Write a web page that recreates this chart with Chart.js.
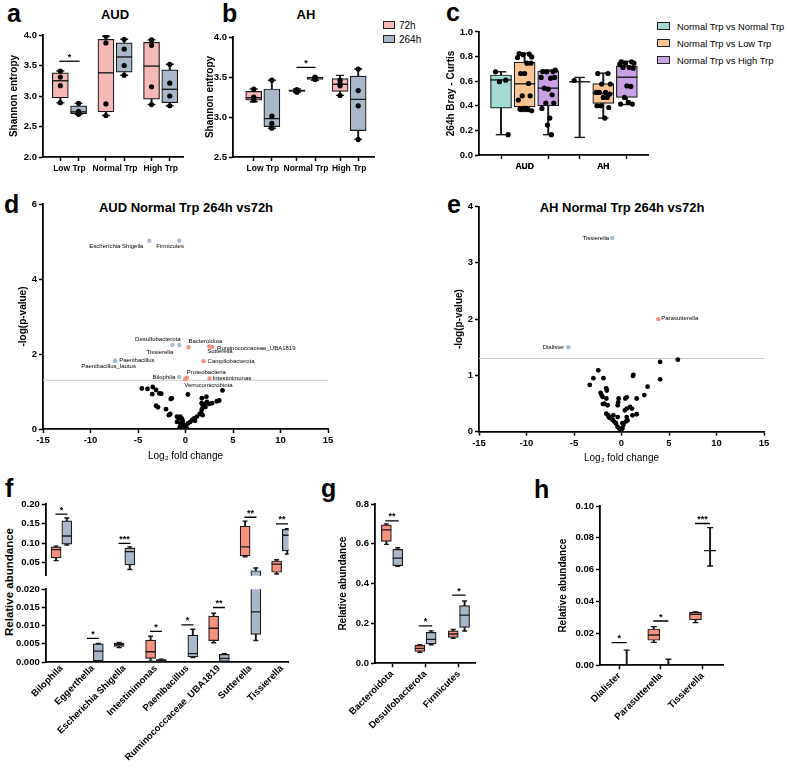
<!DOCTYPE html>
<html>
<head>
<meta charset="utf-8">
<script src="https://cdn.jsdelivr.net/npm/chart.js@4.4.1/dist/chart.umd.min.js"></script>
<style>
  body { margin: 0; background: #fff; width: 789px; height: 769px; position: relative; overflow: hidden;
         font-family: "Liberation Sans", Arial, sans-serif; color: #000; }
  canvas { position: absolute; }
  .letter { position: absolute; font-weight: bold; font-size: 25px; line-height: 1; }
  .ptitle { position: absolute; font-weight: bold; font-size: 13px; white-space: nowrap; transform: translate(-50%, -50%); }
  .sw { position: absolute; border: 1px solid #222; box-sizing: border-box; }
  .lt { position: absolute; font-size: 9.4px; white-space: nowrap; transform: translateY(-50%); }
  .ytitle { position: absolute; font-weight: bold; font-size: 11.5px; white-space: nowrap; transform: translate(-50%, -50%) rotate(-90deg); }
</style>
</head>
<body>
<div class="letter" style="left:7px;top:1px">a</div>
<div class="letter" style="left:222px;top:1px">b</div>
<div class="letter" style="left:446px;top:0px">c</div>
<div class="letter" style="left:4px;top:192px">d</div>
<div class="letter" style="left:447px;top:192px">e</div>
<div class="letter" style="left:5px;top:476px">f</div>
<div class="letter" style="left:321px;top:476px">g</div>
<div class="letter" style="left:534px;top:477px">h</div>

<div class="ptitle" style="left:115px;top:14px">AUD</div>
<div class="ptitle" style="left:306px;top:14px">AH</div>
<div class="ptitle" style="left:186px;top:207px">AUD Normal Trp 264h vs72h</div>
<div class="ptitle" style="left:622px;top:207px">AH Normal Trp 264h vs72h</div>

<div class="sw" style="left:383px;top:21px;width:12px;height:8px;background:#f7b8b8"></div>
<div class="lt" style="left:399px;top:25px;font-size:10px">72h</div>
<div class="sw" style="left:383px;top:35px;width:12px;height:8px;background:#a8b8c9"></div>
<div class="lt" style="left:399px;top:39px;font-size:10px">264h</div>

<div class="sw" style="left:657px;top:22px;width:13px;height:8px;background:#a3dbd5"></div>
<div class="lt" style="left:677px;top:26px">Normal Trp vs Normal Trp</div>
<div class="sw" style="left:657px;top:39px;width:13px;height:8px;background:#fbc593"></div>
<div class="lt" style="left:677px;top:43px">Normal Trp vs Low Trp</div>
<div class="sw" style="left:657px;top:56px;width:13px;height:8px;background:#c9a2e6"></div>
<div class="lt" style="left:677px;top:60px">Normal Trp vs High Trp</div>

<div class="ytitle" style="left:9px;top:582px">Relative abundance</div>

<script>
const FONT = '"Liberation Sans", Arial, sans-serif';
Chart.defaults.font.family = FONT;
Chart.defaults.color = '#000';
Chart.defaults.animation = false;

// ---- panel a / b : Shannon entropy, [min, q1, median, q3, max]
const GROUPS_AB = ['Low Trp', 'Normal Trp', 'High Trp'];
const A_72H = [[2.89, 2.97, 3.25, 3.38, 3.41], [2.68, 2.74, 3.38, 3.93, 3.98], [2.86, 2.95, 3.49, 3.88, 3.92]];
const A_264H = [[2.70, 2.71, 2.74, 2.84, 2.88], [3.34, 3.39, 3.64, 3.87, 3.93], [2.84, 2.89, 3.11, 3.43, 3.52]];
const A_72H_PTS = [[2.89, 3.17, 3.31, 3.41], [2.68, 2.87, 3.87, 3.98], [2.86, 3.15, 3.83, 3.92]];
const A_264H_PTS = [[2.70, 2.72, 2.75, 2.88], [3.34, 3.50, 3.77, 3.93], [2.84, 3.00, 3.21, 3.52]];
const A_SIG = [[1, 3.57, '*']];

const B_72H = [[3.19, 3.21, 3.24, 3.32, 3.35], [3.31, 3.32, 3.33, 3.34, 3.35], [3.27, 3.32, 3.41, 3.48, 3.52]];
const B_264H = [[2.86, 2.88, 2.98, 3.35, 3.46], [3.46, 3.47, 3.49, 3.50, 3.50], [2.72, 2.83, 3.22, 3.51, 3.60]];
const B_72H_PTS = [[3.21, 3.24, 3.25, 3.35], [3.31, 3.32, 3.34, 3.34], [3.27, 3.39, 3.42, 3.46]];
const B_264H_PTS = [[2.86, 2.92, 3.01, 3.46], [3.47, 3.48, 3.49, 3.50], [2.72, 3.14, 3.33, 3.60]];
const B_SIG = [[2, 3.62, '*']];

// ---- panel c : Bray-Curtis at 264h
const GROUPS_C = ['AUD', 'AH'];
const C_NN = [[0.165, 0.38, 0.61, 0.65, 0.676], [0.143, 0.595, 0.595, 0.595, 0.63]];
const C_NL = [[0.354, 0.39, 0.578, 0.754, 0.827], [0.30, 0.42, 0.50, 0.58, 0.665]];
const C_NH = [[0.165, 0.40, 0.543, 0.684, 0.69], [0.41, 0.468, 0.632, 0.724, 0.76]];
const C_NN_PTS = [[0.676, 0.608, 0.595, 0.165], [0.605]];
const C_NL_PTS = [[0.824, 0.819, 0.815, 0.797, 0.792, 0.746, 0.746, 0.662, 0.662, 0.581, 0.481, 0.481, 0.446, 0.378, 0.378, 0.373, 0.373, 0.359],
                  [0.662, 0.662, 0.576, 0.576, 0.508, 0.508, 0.495, 0.508, 0.468, 0.468, 0.40, 0.386, 0.40, 0.30]];
const C_NH_PTS = [[0.678, 0.678, 0.676, 0.689, 0.630, 0.624, 0.630, 0.543, 0.535, 0.489, 0.422, 0.422, 0.378, 0.30, 0.243, 0.165],
                  [0.757, 0.757, 0.746, 0.746, 0.738, 0.711, 0.705, 0.711, 0.562, 0.557, 0.468, 0.414, 0.414, 0.427]];
const JITTER = [-0.07, 0.06, -0.02, 0.09, -0.09, 0.03, 0.08, -0.05, 0.0, 0.05, -0.03, 0.07, -0.08, 0.02, -0.01, 0.04, -0.06, 0.09];

// ---- panel d / e : volcano plots [log2 fold change, -log(p)]
const D_NS = [[-4.6, 1.08], [-4.0, 1.07], [-3.45, 1.12], [-3.1, 1.04], [-3.5, 0.93], [-2.75, 0.95], [-2.55, 0.94],
  [-3.1, 0.62], [-2.9, 0.58], [-2.05, 0.53], [-1.6, 0.40], [-1.75, 0.37], [-1.45, 0.82], [-1.55, 0.80], [0.25, 0.92],
  [-0.9, 0.33], [-0.72, 0.28], [-0.55, 0.33], [-0.4, 0.28], [-0.9, 0.19], [-0.55, 0.15], [-0.28, 0.15], [-0.2, 0.10],
  [-0.1, 0.06], [0.0, 0.02], [0.08, 0.04], [0.25, 0.15], [0.5, 0.19], [0.7, 0.24], [0.9, 0.28], [1.2, 0.33],
  [1.5, 0.40], [1.65, 0.44], [1.8, 0.37], [1.72, 0.53], [1.8, 0.64], [2.0, 0.66], [2.1, 0.59], [2.25, 0.72],
  [2.5, 0.67], [2.8, 0.69], [1.72, 0.82], [2.2, 0.86], [1.7, 0.69], [3.3, 0.74], [3.55, 0.76], [3.9, 1.03],
  [-0.6, 0.05], [0.15, 0.0], [-0.3, 0.22], [1.0, 0.22]];
const D_UP_NAMES = ['Bacteroidota', 'Ruminococcaceae_UBA1819', 'Sutterella', 'Campilobacterota', 'Proteobacteria', 'Intestinimonas', 'Verrucomicrobiota'];
const D_UP = [[0.32, 2.18], [2.8, 2.19], [2.5, 2.2], [1.9, 1.81], [0.14, 1.37], [2.53, 1.35], [-0.03, 1.33]];
const D_UP_TAG = [[0, -6, 'left'], [5, 1, 'left'], [-2, 5, 'left'], [4, 0, 'left'], [0, -5, 'left'], [3, 0, 'left'], [-1, 6, 'left']];
const D_DOWN_NAMES = ['Escherichia Shigella', 'Firmicutes', 'Desulfobacterota', 'Tissierella', 'Paenibacillus', 'Paenibacillus_lautus', 'Bilophila'];
const D_DOWN = [[-3.8, 5.02], [-0.66, 5.02], [-1.37, 2.24], [-0.66, 2.24], [-7.4, 1.82], [-7.4, 1.82], [-0.66, 1.39]];
const D_DOWN_TAG = [[-6, 6, 'right'], [-23, 6, 'left'], [8, -6, 'right'], [-6, 7, 'right'], [4, 0, 'left'], [-34, 6, 'left'], [-4, 0, 'right']];

const E_NS = [[-3.34, 0.83], [-2.96, 0.95], [-2.44, 1.09], [-1.9, 0.95], [-1.6, 0.77], [-1.55, 0.73], [-2.2, 0.69],
  [-2.1, 0.65], [-2.0, 0.62], [-1.6, 0.59], [-1.96, 0.49], [-1.8, 0.50], [-1.46, 0.47], [-1.6, 0.32], [-1.4, 0.29],
  [-1.35, 0.26], [-1.2, 0.24], [-0.93, 0.21], [-0.77, 0.18], [-0.86, 0.29], [-0.4, 0.26], [-0.6, 0.15], [-0.42, 0.09],
  [-0.25, 0.06], [-0.07, 0.03], [0.1, 0.06], [0.2, 0.12], [0.45, 0.18], [0.63, 0.2], [0.55, 0.26], [-0.4, 0.47],
  [-0.3, 0.59], [-0.35, 0.52], [0.4, 0.59], [0.55, 0.61], [0.35, 0.38], [0.55, 0.41], [0.9, 0.44], [1.1, 0.41],
  [1.15, 0.29], [1.6, 0.31], [1.6, 0.59], [1.2, 0.99], [1.25, 1.01], [2.4, 0.65], [2.75, 0.80], [4.07, 0.93],
  [4.07, 1.24], [5.93, 1.28], [0.0, 0.0], [0.1, 0.15]];
const E_UP_NAMES = ['Parasutterella'];
const E_UP = [[3.87, 2.0]];
const E_UP_TAG = [[3, -1, 'left']];
const E_DOWN_NAMES = ['Tissierella', 'Dialister'];
const E_DOWN = [[-0.98, 3.44], [-5.6, 1.5]];
const E_DOWN_TAG = [[-3, 0, 'right'], [-4, 0, 'right']];
const P_CUTOFF = 1.3;

// ---- panel f / g / h : relative abundance
const F_TAXA = ['Bilophila', 'Eggerthella', 'Escherichia Shigella', 'Intestinimonas', 'Paenibacillus', 'Ruminococcaceae_UBA1819', 'Sutterella', 'Tissierella'];
const F_72H = [[0.055, 0.062, 0.083, 0.090, 0.092], null, [0.0040, 0.0043, 0.0048, 0.0052, 0.0054],
  [0.0002, 0.0010, 0.0028, 0.0060, 0.0071], null, [0.0053, 0.0059, 0.0093, 0.0126, 0.0134],
  [0.065, 0.067, 0.090, 0.143, 0.156], [0.0205, 0.025, 0.046, 0.054, 0.057]];
const F_264H = [[0.095, 0.097, 0.118, 0.157, 0.164], [0.0, 0.0003, 0.0030, 0.0050, 0.0051], [0.032, 0.044, 0.078, 0.087, 0.090],
  [0.0, 0.0001, 0.0004, 0.0007, 0.0008], [0.0012, 0.0014, 0.0023, 0.0074, 0.0090], [0.0, 0.0002, 0.0010, 0.0021, 0.0023],
  [0.0059, 0.0076, 0.0138, 0.029, 0.036], [0.072, 0.080, 0.120, 0.135, 0.137]];
const F_SIG = [[1, 0.174, '*'], [2, 0.0065, '*'], [3, 0.099, '***'], [4, 0.0084, '*'], [5, 0.0102, '*'], [6, 0.0150, '**'], [7, 0.166, '**'], [8, 0.149, '**']];

const G_TAXA = ['Bacteroidota', 'Desulfobacterota', 'Firmicutes'];
const G_72H = [[0.597, 0.612, 0.67, 0.695, 0.70], [0.055, 0.06, 0.075, 0.09, 0.093], [0.125, 0.13, 0.147, 0.163, 0.17]];
const G_264H = [[0.487, 0.49, 0.528, 0.572, 0.58], [0.093, 0.097, 0.12, 0.155, 0.163], [0.162, 0.18, 0.242, 0.29, 0.313]];
const G_SIG = [[1, 0.715, '**'], [2, 0.188, '*'], [3, 0.342, '*']];

const H_TAXA = ['Dialister', 'Parasutterella', 'Tissierella'];
const H_72H = [null, [0.0144, 0.0157, 0.019, 0.0228, 0.0243], [0.0268, 0.0285, 0.032, 0.0333, 0.0335]];
const H_264H = [[0, 0, 0, 0, 0.0095], [0, 0, 0, 0, 0.0038], [0.0623, 0.072, 0.072, 0.072, 0.0864]];
const H_SIG = [[1, 0.0142, '*'], [2, 0.0278, '*'], [3, 0.089, '***']];

// colours
const PINK_LIGHT = '#f7b8b8', GREY = '#a8b8c9', SALMON = '#f6907f';
const TEAL = '#a3dbd5', ORANGE = '#fbc593', PURPLE = '#c9a2e6';
const RED_PT = '#f4917e', BLUE_PT = '#a9bdd3', INK = '#1a1a1a';

// canvas frames: canvas box + wanted plot area (page px)
const FR = {
  a: {left: 8, top: 25, w: 227, h: 160, area: {l: 43, t: 35, r: 183, b: 157}},
  b: {left: 204, top: 25, w: 180, h: 160, area: {l: 233, t: 37, r: 380, b: 157}},
  c: {left: 445, top: 20, w: 215, h: 165, area: {l: 479, t: 31, r: 653, b: 155}},
  d: {left: 17, top: 195, w: 320, h: 267, area: {l: 43, t: 204, r: 328, b: 429}},
  e: {left: 453, top: 195, w: 322, h: 269, area: {l: 479, t: 206.5, r: 764, b: 431.7}},
  fTop: {left: 10, top: 495, w: 285, h: 90, area: {l: 45.7, t: 504, r: 290, b: 575.8}},
  fBot: {left: 10, top: 580, w: 285, h: 189, area: {l: 45.7, t: 589.3, r: 290, b: 662}},
  g: {left: 337, top: 495, w: 145, h: 274, area: {l: 375, t: 504, r: 476, b: 663.3}},
  h: {left: 557, top: 495, w: 175, h: 274, area: {l: 600, t: 506, r: 723, b: 665.3}}
};

function makeCanvas(f) {
  const c = document.createElement('canvas');
  c.width = f.w; c.height = f.h;
  c.style.left = f.left + 'px'; c.style.top = f.top + 'px';
  c.style.width = f.w + 'px'; c.style.height = f.h + 'px';
  document.body.appendChild(c);
  return c;
}

function frameLayout(f, xShown) {
  return {padding: {left: 0, top: f.area.t - f.top, right: f.left + f.w - f.area.r,
                    bottom: xShown ? 0 : f.top + f.h - f.area.b}};
}

function yScale(f, min, max, ticks, dec, title) {
  return {
    type: 'linear', min: min, max: max,
    afterBuildTicks: s => { s.ticks = ticks.map(v => ({value: v})); },
    afterFit: s => { s.width = f.area.l - f.left; },
    ticks: {callback: v => Number(v).toFixed(dec), font: {size: 9.5, weight: 'bold'}, color: '#000', padding: 2},
    grid: {drawOnChartArea: false, drawTicks: true, tickLength: 4, tickColor: '#000', tickWidth: 1.5},
    border: {color: '#000', width: 1.8},
    title: {display: !!title, text: title || '', font: {size: 10, weight: 'bold'}, color: '#000', padding: 0}
  };
}

// x axis for grouped boxes: labels at group centres, tick marks at each box
function xGroupScale(f, min, max, names, offs, rotated, drawTicks, shown) {
  const vals = [];
  names.forEach((n, i) => {
    vals.push(i + 1);
    if (!rotated) offs.forEach(o => vals.push(i + 1 + o));
  });
  return {
    type: 'linear', min: min, max: max, offset: false, display: shown,
    afterBuildTicks: s => { s.ticks = vals.map(v => ({value: v})); },
    afterFit: s => { s.height = shown ? f.top + f.h - f.area.b : 0; },
    ticks: {
      autoSkip: false, padding: rotated ? 1 : 3,
      minRotation: rotated ? 45 : 0, maxRotation: rotated ? 45 : 0,
      callback: v => Number.isInteger(v) ? names[v - 1] : '',
      font: {size: rotated ? 9.5 : 8.5, weight: 'bold'}, color: '#000'
    },
    grid: {offset: false, drawOnChartArea: false, drawTicks: drawTicks, tickLength: 4, tickWidth: 1.5,
           tickColor: c => (!rotated && c.tick && Number.isInteger(c.tick.value)) ? 'rgba(0,0,0,0)' : '#000'},
    border: {color: '#000', width: 1.8}
  };
}

// box-and-whisker built from floating bars + line-style points
function seriesDatasets(stats, pts, off, o) {
  const whisk = [], box = [], med = [], cap = [], dots = [];
  stats.forEach((s, g) => {
    if (!s) return;
    const x = g + 1 + off;
    const [mn, q1, md, q3, mx] = s;
    if (q1 > mn) { whisk.push({x: x, y: [mn, q1]}); cap.push({x: x, y: mn}); }
    if (mx > q3) { whisk.push({x: x, y: [q3, mx]}); cap.push({x: x, y: mx}); }
    box.push({x: x, y: [q1, q3]});
    med.push({x: x, y: md});
    ((pts && pts[g]) || []).forEach((v, k) => {
      const j = o.jitter ? o.jitter[k % o.jitter.length] : 0;
      dots.push({x: x + j, y: v});
    });
  });
  const clip = o.clip;
  const list = [
    {type: 'bar', data: whisk, backgroundColor: INK, barThickness: 1.3, grouped: false, order: 5, clip: clip},
    {type: 'bar', data: box, backgroundColor: o.fill, borderColor: INK, borderWidth: 1.2, borderSkipped: false,
     barThickness: o.boxW, grouped: false, order: 3, clip: clip},
    {type: 'scatter', data: med, pointStyle: 'line', pointRadius: o.boxW / 2, pointBorderColor: INK,
     pointBorderWidth: 1.4, order: 2, clip: clip},
    {type: 'scatter', data: cap, pointStyle: 'line', pointRadius: o.boxW / 4, pointBorderColor: INK,
     pointBorderWidth: 1.4, order: 2, clip: clip}
  ];
  if (dots.length) {
    list.push({type: 'scatter', data: dots, pointRadius: o.dotR, pointBackgroundColor: '#000',
               pointBorderWidth: 0, order: 1});
  }
  return list;
}

function sigDatasets(sigs, off, yMin, yMax) {
  return sigs.filter(s => s[1] >= yMin && s[1] <= yMax).map(s => ({
    type: 'line', data: [{x: s[0] - off, y: s[1]}, {x: s[0] + off, y: s[1]}],
    borderColor: '#000', borderWidth: 1.3, pointRadius: 0, order: 0}));
}

function annotPlugin(stars) {
  return {
    id: 'annot',
    afterDatasetsDraw(chart) {
      const ctx = chart.ctx, xs = chart.scales.x, ys = chart.scales.y;
      ctx.save();
      ctx.fillStyle = '#000';
      (stars || []).forEach(s => {
        if (s[1] < ys.min || s[1] > ys.max) return;
        ctx.font = 'bold 9px ' + FONT;
        ctx.textAlign = 'center';
        ctx.textBaseline = 'alphabetic';
        ctx.fillText(s[2], xs.getPixelForValue(s[0]), ys.getPixelForValue(s[1]) - 1.5);
      });
      chart.data.datasets.forEach((ds, i) => {
        if (!ds.tagNames) return;
        const meta = chart.getDatasetMeta(i);
        ctx.font = '6px ' + FONT;
        ctx.textBaseline = 'middle';
        meta.data.forEach((pt, j) => {
          const t = ds.tagPos[j];
          ctx.textAlign = t[2];
          ctx.fillText(ds.tagNames[j], pt.x + t[0], pt.y + t[1]);
        });
      });
      ctx.restore();
    }
  };
}

function boxChart(f, cfg) {
  let datasets = [];
  cfg.series.forEach(s => { datasets = datasets.concat(seriesDatasets(s.stats, s.pts, s.off, s.o)); });
  datasets = datasets.concat(sigDatasets(cfg.sigs || [], cfg.sigOff, cfg.yMin, cfg.yMax));
  const xShown = cfg.xShown !== false;
  const x = xGroupScale(f, cfg.xMin, cfg.xMax, cfg.names, cfg.series.map(s => s.off), cfg.rotated, cfg.drawTicks, xShown);
  return new Chart(makeCanvas(f), {
    type: 'bar',
    data: {datasets: datasets},
    options: {
      responsive: false, animation: false,
      layout: frameLayout(f, xShown),
      plugins: {legend: {display: false}, tooltip: {enabled: false}},
      scales: {x: x, y: yScale(f, cfg.yMin, cfg.yMax, cfg.yTicks, cfg.yDec, cfg.yTitle)}
    },
    plugins: [annotPlugin(cfg.sigs)]
  });
}

// ---- a
boxChart(FR.a, {
  names: GROUPS_AB, xMin: 0.42, xMax: 3.49, yMin: 2.0, yMax: 4.0, yTicks: [2.0, 2.5, 3.0, 3.5, 4.0], yDec: 1,
  yTitle: 'Shannon entropy', drawTicks: true, sigs: A_SIG, sigOff: 0.22,
  series: [
    {stats: A_72H, pts: A_72H_PTS, off: -0.2, o: {fill: PINK_LIGHT, boxW: 16, dotR: 2.6}},
    {stats: A_264H, pts: A_264H_PTS, off: 0.2, o: {fill: GREY, boxW: 16, dotR: 2.6}}
  ]
});

// ---- b
boxChart(FR.b, {
  names: GROUPS_AB, xMin: 0.31, xMax: 3.59, yMin: 2.5, yMax: 4.0, yTicks: [2.5, 3.0, 3.5, 4.0], yDec: 1,
  yTitle: 'Shannon entropy', drawTicks: true, sigs: B_SIG, sigOff: 0.22,
  series: [
    {stats: B_72H, pts: B_72H_PTS, off: -0.21, o: {fill: PINK_LIGHT, boxW: 16, dotR: 2.6}},
    {stats: B_264H, pts: B_264H_PTS, off: 0.21, o: {fill: GREY, boxW: 16, dotR: 2.6}}
  ]
});

// ---- c
boxChart(FR.c, {
  names: GROUPS_C, xMin: 0.42, xMax: 2.57, yMin: 0, yMax: 1.0, yTicks: [0, 0.2, 0.4, 0.6, 0.8, 1.0], yDec: 1,
  yTitle: '264h Bray - Curtis', drawTicks: true,
  series: [
    {stats: C_NN, pts: C_NN_PTS, off: -0.3, o: {fill: TEAL, boxW: 21, dotR: 2.6, jitter: JITTER}},
    {stats: C_NL, pts: C_NL_PTS, off: 0, o: {fill: ORANGE, boxW: 21, dotR: 2.6, jitter: JITTER}},
    {stats: C_NH, pts: C_NH_PTS, off: 0.3, o: {fill: PURPLE, boxW: 21, dotR: 2.6, jitter: JITTER}}
  ]
});

// ---- volcano plots
function volcano(f, ns, up, upNames, upTag, down, downNames, downTag, yMax, yTicks) {
  const toXY = p => ({x: p[0], y: p[1]});
  return new Chart(makeCanvas(f), {
    type: 'scatter',
    data: {datasets: [
      {type: 'line', data: [{x: -15, y: P_CUTOFF}, {x: 15, y: P_CUTOFF}], borderColor: '#c9c9c9', borderWidth: 1,
       pointRadius: 0, order: 5},
      {data: ns.map(toXY), pointRadius: 2.4, pointBackgroundColor: '#000', pointBorderWidth: 0, order: 2},
      {data: up.map(toXY), pointRadius: 2.2, pointBackgroundColor: RED_PT, pointBorderWidth: 0, order: 1,
       tagNames: upNames, tagPos: upTag},
      {data: down.map(toXY), pointRadius: 2.2, pointBackgroundColor: BLUE_PT, pointBorderWidth: 0, order: 1,
       tagNames: downNames, tagPos: downTag}
    ]},
    options: {
      responsive: false, animation: false,
      layout: frameLayout(f, true),
      plugins: {legend: {display: false}, tooltip: {enabled: false}},
      scales: {
        x: {
          type: 'linear', min: -15, max: 15,
          afterBuildTicks: s => { s.ticks = [-15, -10, -5, 0, 5, 10, 15].map(v => ({value: v})); },
          afterFit: s => { s.height = f.top + f.h - f.area.b; },
          ticks: {font: {size: 9.5, weight: 'bold'}, color: '#000', padding: 2},
          grid: {drawOnChartArea: false, drawTicks: true, tickLength: 4, tickColor: '#000', tickWidth: 1.5},
          border: {color: '#000', width: 1.8},
          title: {display: true, text: 'Log\u2082 fold change', font: {size: 10}, color: '#000', padding: 0}
        },
        y: yScale(f, 0, yMax, yTicks, 0, '-log(p-value)')
      }
    },
    plugins: [annotPlugin([])]
  });
}
volcano(FR.d, D_NS, D_UP, D_UP_NAMES, D_UP_TAG, D_DOWN, D_DOWN_NAMES, D_DOWN_TAG, 6, [0, 2, 4, 6]);
volcano(FR.e, E_NS, E_UP, E_UP_NAMES, E_UP_TAG, E_DOWN, E_DOWN_NAMES, E_DOWN_TAG, 4, [0, 1, 2, 3, 4]);

// ---- f (broken y axis: two stacked charts on the same data)
const F_SERIES = [
  {stats: F_72H, pts: null, off: -0.17, o: {fill: SALMON, boxW: 10, clip: 0}},
  {stats: F_264H, pts: null, off: 0.17, o: {fill: GREY, boxW: 10, clip: 0}}
];
boxChart(FR.fTop, {
  names: F_TAXA, xMin: 0.5, xMax: 8.21, yMin: 0.016, yMax: 0.20, yTicks: [0.05, 0.10, 0.15, 0.20], yDec: 2,
  yTitle: '', rotated: true, drawTicks: false, xShown: false, sigs: F_SIG, sigOff: 0.19, series: F_SERIES
});
boxChart(FR.fBot, {
  names: F_TAXA, xMin: 0.5, xMax: 8.21, yMin: 0, yMax: 0.020, yTicks: [0, 0.005, 0.010, 0.015, 0.020], yDec: 3,
  yTitle: '', rotated: true, drawTicks: false, sigs: F_SIG, sigOff: 0.19, series: F_SERIES
});

// ---- g
boxChart(FR.g, {
  names: G_TAXA, xMin: 0.49, xMax: 3.5, yMin: 0, yMax: 0.8, yTicks: [0, 0.2, 0.4, 0.6, 0.8], yDec: 1,
  yTitle: 'Relative abundance', rotated: true, drawTicks: true, sigs: G_SIG, sigOff: 0.2,
  series: [
    {stats: G_72H, pts: null, off: -0.17, o: {fill: SALMON, boxW: 10}},
    {stats: G_264H, pts: null, off: 0.17, o: {fill: GREY, boxW: 10}}
  ]
});

// ---- h
boxChart(FR.h, {
  names: H_TAXA, xMin: 0.54, xMax: 3.49, yMin: 0, yMax: 0.10, yTicks: [0, 0.02, 0.04, 0.06, 0.08, 0.10], yDec: 2,
  yTitle: 'Relative abundance', rotated: true, drawTicks: true, sigs: H_SIG, sigOff: 0.18,
  series: [
    {stats: H_72H, pts: null, off: -0.17, o: {fill: SALMON, boxW: 12}},
    {stats: H_264H, pts: null, off: 0.18, o: {fill: GREY, boxW: 12}}
  ]
});
</script>
</body>
</html>
